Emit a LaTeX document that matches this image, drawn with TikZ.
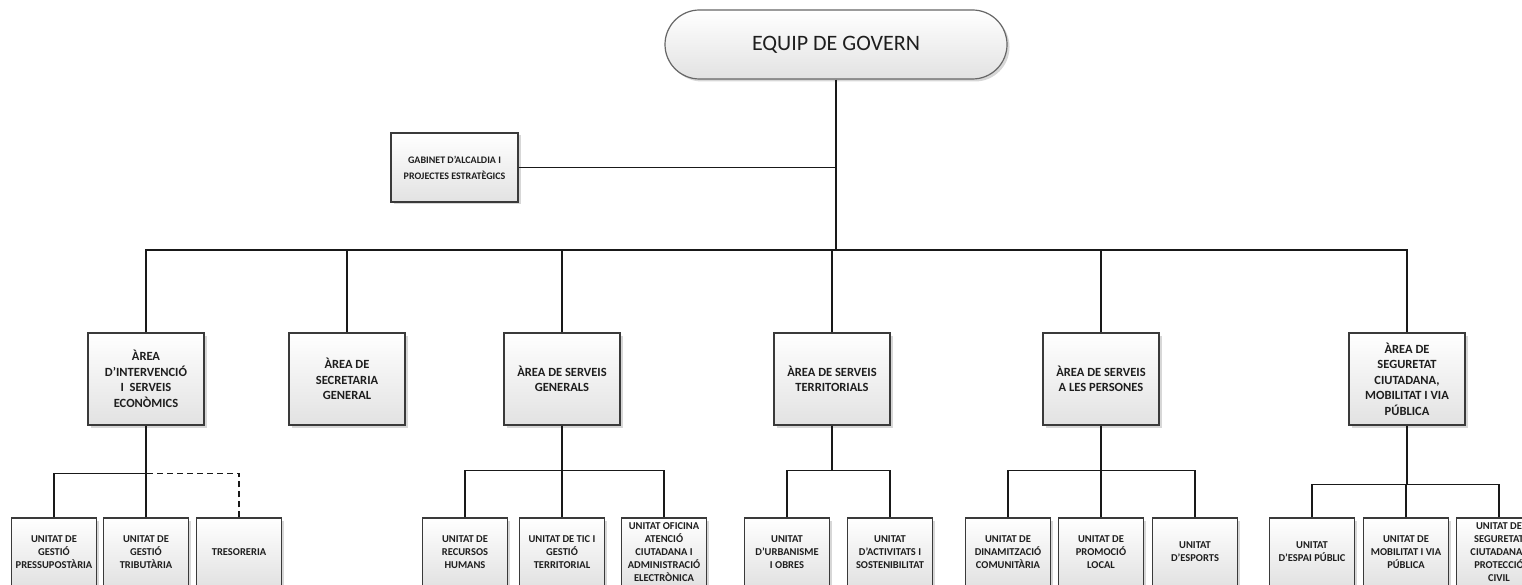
\documentclass[tikz,border=0pt]{standalone}
\usepackage{fontspec}
\setmainfont{Carlito}
\usetikzlibrary{shadows}
\definecolor{boxline}{HTML}{3A3A3A}
\definecolor{boxfill}{HTML}{E2E2E2}
\definecolor{inkcol}{HTML}{1E1E1E}
\tikzset{
  shaded/.style={draw=boxline, line width=1.4pt, top color=white, bottom color=boxfill,
    drop shadow={shadow xshift=2.5pt, shadow yshift=-2.5pt, fill=black!35, opacity=0.45},
    inner sep=0pt, align=center, text=inkcol},
  areabox/.style={shaded, minimum width=116pt, minimum height=92pt,
    font=\bfseries\fontsize{12.5}{15.5}\selectfont},
  unitbox/.style={shaded, minimum width=85pt, minimum height=68pt,
    font=\bfseries\fontsize{10.5}{13}\selectfont},
  gabbox/.style={shaded, minimum width=127pt, minimum height=69pt,
    font=\bfseries\fontsize{10}{16}\selectfont},
  pillbox/.style={shaded, draw=black!60, line width=1.2pt, minimum width=342pt, minimum height=69pt,
    rounded corners=34.5pt, font=\fontsize{22}{26}\selectfont},
  link/.style={line width=1.3pt, draw=black!90},
}
\begin{document}
\begin{tikzpicture}[x=1pt, y=-1pt]
\useasboundingbox (0,0) rectangle (1522,585);

% top level
\node[pillbox] (eq) at (836,44.5) {EQUIP DE GOVERN};
\node[gabbox] (gab) at (454.5,167.5) {GABINET D’ALCALDIA I\\PROJECTES ESTRATÈGICS};

% areas
\node[areabox] (a1) at (146,379) {ÀREA\\D’INTERVENCIÓ\\I\ \ SERVEIS\\ECONÒMICS};
\node[areabox] (a2) at (347,379) {ÀREA DE\\SECRETARIA\\GENERAL};
\node[areabox] (a3) at (562,379) {ÀREA DE SERVEIS\\GENERALS};
\node[areabox] (a4) at (832,379) {ÀREA DE SERVEIS\\TERRITORIALS};
\node[areabox] (a5) at (1101,379) {ÀREA DE SERVEIS\\A LES PERSONES};
\node[areabox] (a6) at (1407,379) {ÀREA DE\\SEGURETAT\\CIUTADANA,\\MOBILITAT I VIA\\PÚBLICA};

% units
\node[unitbox] (u11) at (54,552) {UNITAT DE\\GESTIÓ\\PRESSUPOSTÀRIA};
\node[unitbox] (u12) at (146,552) {UNITAT DE\\GESTIÓ\\TRIBUTÀRIA};
\node[unitbox] (u13) at (239,552) {TRESORERIA};
\node[unitbox] (u31) at (465,552) {UNITAT DE\\RECURSOS\\HUMANS};
\node[unitbox] (u32) at (562,552) {UNITAT DE TIC I\\GESTIÓ\\TERRITORIAL};
\node[unitbox] (u33) at (664,552) {UNITAT OFICINA\\ATENCIÓ\\CIUTADANA I\\ADMINISTRACIÓ\\ELECTRÒNICA};
\node[unitbox] (u41) at (787,552) {UNITAT\\D’URBANISME\\I OBRES};
\node[unitbox] (u42) at (890,552) {UNITAT\\D’ACTIVITATS I\\SOSTENIBILITAT};
\node[unitbox] (u51) at (1008,552) {UNITAT DE\\DINAMITZACIÓ\\COMUNITÀRIA};
\node[unitbox] (u52) at (1101,552) {UNITAT DE\\PROMOCIÓ\\LOCAL};
\node[unitbox] (u53) at (1195,552) {UNITAT\\D’ESPORTS};
\node[unitbox] (u61) at (1312,552) {UNITAT\\D’ESPAI PÚBLIC};
\node[unitbox] (u62) at (1406,552) {UNITAT DE\\MOBILITAT I VIA\\PÚBLICA};
\node[unitbox] (u63) at (1499,552) {UNITAT DE\\SEGURETAT\\CIUTADANA I\\PROTECCIÓ\\CIVIL};

% junction points
\coordinate (bus) at (836,250);
\path (a1.south) ++(0,48) coordinate (j1);
\path (a3.south) ++(0,45) coordinate (j3);
\path (a4.south) ++(0,45) coordinate (j4);
\path (a5.south) ++(0,45) coordinate (j5);
\path (a6.south) ++(0,59) coordinate (j6);

% connectors
\draw[link] (eq.south) -- (bus);
\draw[link] (gab.east) -- (gab.east -| eq.south);
\foreach \a in {a1,a2,a3,a4,a5,a6} \draw[link] (\a.north) |- (bus);

\draw[link] (a1.south) -- (j1);
\draw[link] (u11.north) |- (j1);
\draw[link] (u12.north) -- (j1);
\draw[link, dash pattern=on 6pt off 4pt] (u13.north) |- (j1);

\draw[link] (a3.south) -- (j3);
\foreach \u in {u31,u32,u33} \draw[link] (\u.north) |- (j3);

\draw[link] (a4.south) -- (j4);
\foreach \u in {u41,u42} \draw[link] (\u.north) |- (j4);

\draw[link] (a5.south) -- (j5);
\foreach \u in {u51,u52,u53} \draw[link] (\u.north) |- (j5);

\draw[link] (a6.south) -- (j6);
\foreach \u in {u61,u62,u63} \draw[link] (\u.north) |- (j6);
\end{tikzpicture}
\end{document}
